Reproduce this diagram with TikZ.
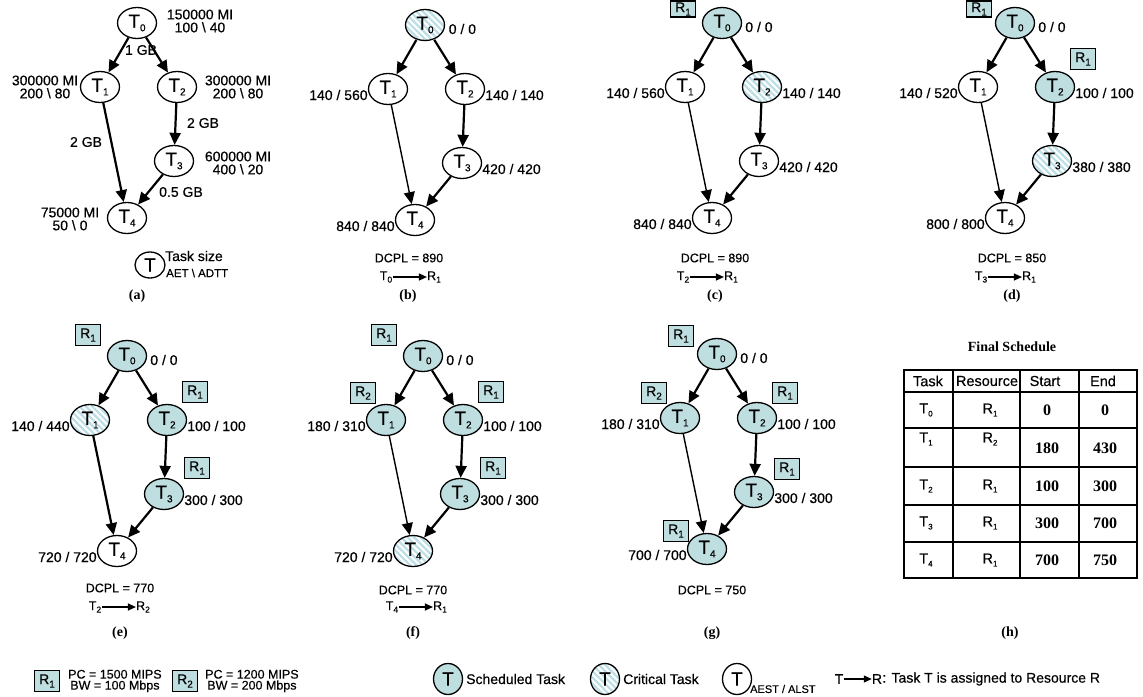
\documentclass[tikz,border=0pt]{standalone}
\usepackage{fontspec}
\setmainfont{Liberation Sans}[FakeBold=0.45]
\newfontfamily\capfont{Liberation Serif}
\usetikzlibrary{shapes.geometric,arrows.meta,patterns.meta,calc}
\definecolor{schedc}{RGB}{190,222,224}
\definecolor{critc}{RGB}{188,222,230}
\newcommand\sbs[1]{\raisebox{-3.5pt}{\fontsize{10}{10}\selectfont #1}}
\newcommand\sbl[1]{\raisebox{-2.5pt}{\fontsize{8.5}{8.5}\selectfont #1}}
\newcommand\sbt[1]{\raisebox{-3pt}{\fontsize{8}{8}\selectfont #1}}
\tikzset{
 tbase/.style={ellipse, draw, line width=1.3pt, minimum width=39pt, minimum height=31pt, inner sep=0pt, font=\fontsize{19}{19}\selectfont},
 plain/.style={tbase, fill=white},
 sched/.style={tbase, fill=schedc},
 crit/.style={tbase, preaction={fill=white}, pattern={Lines[angle=-45,distance=4.5pt,line width=2.2pt]}, pattern color=critc},
 rbox/.style={draw, line width=1.3pt, fill=schedc, minimum width=25pt, minimum height=21pt, inner sep=0pt, font=\fontsize{14}{14}\selectfont},
 lab/.style={font=\fontsize{14}{13}\selectfont, inner sep=0pt},
 slab/.style={font=\fontsize{12.5}{13}\selectfont, inner sep=0pt},
 arr/.style={line width=2.2pt, -{Triangle[length=12pt,width=11pt]}},
 arrthin/.style={line width=1.4pt, -{Triangle[length=12pt,width=11pt]}},
 asg/.style={line width=1.3pt, -{Triangle[length=8pt,width=7pt]}, shorten <=1pt},
 capt/.style={font=\capfont\bfseries\fontsize{14}{14}\selectfont, inner sep=0pt},
 tcell/.style={font=\fontsize{14.5}{14}\selectfont, inner sep=0pt},
 tnum/.style={font=\capfont\bfseries\fontsize{16}{16}\selectfont, inner sep=0pt},
 tline/.style={line width=1.9pt},
}
\newcommand\dagnodes[7]{%
 \begin{scope}[shift={#2}]
  \node[#3] (#10) at (0,0) {T\sbs{0}};
  \node[#4] (#11) at (-37,64) {T\sbs{1}};
  \node[#5] (#12) at (40,64) {T\sbs{2}};
  \node[#6] (#13) at (37,138) {T\sbs{3}};
  \node[#7] (#14) at (-10,195) {T\sbs{4}};
 \end{scope}}
\newcommand\dagedges[2]{%
 \draw[arr] (#10) -- (#11);
 \draw[arr] (#10) -- (#12);
 \draw[arr] (#12) -- (#13);
 \draw[#2] (#11) -- (#14);
 \draw[arr] (#13) -- (#14);}
\newcommand\daglabels[6]{%
 \node[lab,anchor=west] (#1l0) at ([shift={(3,4)}]#10.east) {#2};
 \node[lab,anchor=east] (#1l1) at ([shift={(0,6)}]#11.west) {#3};
 \node[lab,anchor=west] (#1l2) at ([shift={(0,6)}]#12.east) {#4};
 \node[lab,anchor=west] (#1l3) at ([shift={(0,6)}]#13.east) {#5};
 \node[lab,anchor=east] (#1l4) at ([shift={(0,6)}]#14.west) {#6};}
\newcommand\assignto[5]{%
 \node[slab] (#1t) at (#2-24,#3) {T\sbl{#4}};
 \node[slab] (#1r) at (#2+24,#3) {R\sbl{#5}};
 \draw[asg] (#1t) -- (#1r);}
\newcommand\trow[8]{%
 \node[tcell] (#8t) at (926,#1) {T\sbt{#3}};
 \node[tcell] (#8r) at (990,#1) {R\sbt{#4}};
 \node[tnum] (#8s) at (1047,#2) {#5};
 \node[tnum] (#8e) at (1105,#2) {#6};}
\begin{document}
\begin{tikzpicture}[x=1pt,y=-1pt]
\useasboundingbox (0,0) rectangle (1143,696);
% ---------------- (a)
\dagnodes{a}{(137,23)}{plain}{plain}{plain}{plain}{plain}
\dagedges{a}{arr}
\node[lab,align=center] (al0) at (200,21) {150000 MI\\100 \textbackslash{} 40};
\node[lab,align=center] (al1) at (45,87) {300000 MI\\200 \textbackslash{} 80};
\node[lab,align=center] (al2) at (238,87) {300000 MI\\200 \textbackslash{} 80};
\node[lab,align=center] (al3) at (238,163) {600000 MI\\400 \textbackslash{} 20};
\node[lab,align=center] (al4) at (70,219) {75000 MI\\50 \textbackslash{} 0};
\node[lab] (ae1) at (141,50) {1 GB};
\node[lab] (ae2) at (203,123) {2 GB};
\node[lab] (ae3) at (86,142) {2 GB};
\node[lab] (ae4) at (181,192) {0.5 GB};
\node[plain, minimum width=30pt, minimum height=26pt] (alg) at (150,265) {T};
\node[lab,anchor=west] (algt) at (165,256) {Task size};
\node[lab,anchor=west,font=\fontsize{11.5}{11}\selectfont] (algb) at (166,273) {AET \textbackslash{} ADTT};
\node[capt] (acap) at (137,296) {(a)};
% ---------------- (b)
\dagnodes{b}{(425,25)}{crit}{plain}{plain}{plain}{plain}
\dagedges{b}{arrthin}
\daglabels{b}{0 / 0}{140 / 560}{140 / 140}{420 / 420}{840 / 840}
\node[slab] (bd) at (409,258) {DCPL = 890};
\assignto{ba}{410}{277}{0}{1}
\node[capt] (bcap) at (408,296) {(b)};
% ---------------- (c)
\dagnodes{c}{(722,23)}{sched}{plain}{crit}{plain}{plain}
\dagedges{c}{arrthin}
\daglabels{c}{0 / 0}{140 / 560}{140 / 140}{420 / 420}{840 / 840}
\node[rbox, minimum height=16pt] (cb0) at ([shift={(-39,-14)}]c0.center) {R\sbs{1}};
\node[slab] (cd) at (715,258) {DCPL = 890};
\assignto{ca}{707}{277}{2}{1}
\node[capt] (ccap) at (715,296) {(c)};
% ---------------- (d)
\dagnodes{d}{(1015,23)}{sched}{plain}{sched}{crit}{plain}
\dagedges{d}{arrthin}
\daglabels{d}{0 / 0}{140 / 520}{100 / 100}{380 / 380}{800 / 800}
\node[rbox, minimum height=16pt] (db0) at ([shift={(-36,-14)}]d0.center) {R\sbs{1}};
\node[rbox] (db2) at ([shift={(28,-28)}]d2.center) {R\sbs{1}};
\node[slab] (dd) at (1012,258) {DCPL = 850};
\assignto{da}{1005}{277}{3}{1}
\node[capt] (dcap) at (1012,296) {(d)};
% ---------------- (e)
\dagnodes{e}{(127,356)}{sched}{crit}{sched}{sched}{plain}
\dagedges{e}{arr}
\daglabels{e}{0 / 0}{140 / 440}{100 / 100}{300 / 300}{720 / 720}
\node[rbox] (eb0) at ([shift={(-39,-21)}]e0.center) {R\sbs{1}};
\node[rbox] (eb2) at ([shift={(28,-28)}]e2.center) {R\sbs{1}};
\node[rbox] (eb3) at ([shift={(33,-26)}]e3.center) {R\sbs{1}};
\node[slab] (ed) at (120,588) {DCPL = 770};
\assignto{ea}{119}{607}{2}{2}
\node[capt] (ecap) at (120,633) {(e)};
% ---------------- (f)
\dagnodes{f}{(423,356)}{sched}{sched}{sched}{sched}{crit}
\dagedges{f}{arrthin}
\daglabels{f}{0 / 0}{180 / 310}{100 / 100}{300 / 300}{720 / 720}
\node[rbox] (fb0) at ([shift={(-39,-21)}]f0.center) {R\sbs{1}};
\node[rbox] (fb1) at ([shift={(-23,-27)}]f1.center) {R\sbs{2}};
\node[rbox] (fb2) at ([shift={(28,-28)}]f2.center) {R\sbs{1}};
\node[rbox] (fb3) at ([shift={(33,-26)}]f3.center) {R\sbs{1}};
\node[slab] (fd) at (413,590) {DCPL = 770};
\assignto{fa}{416}{607}{4}{1}
\node[capt] (fcap) at (413,633) {(f)};
% ---------------- (g)
\dagnodes{g}{(717,354)}{sched}{sched}{sched}{sched}{sched}
\dagedges{g}{arrthin}
\daglabels{g}{0 / 0}{180 / 310}{100 / 100}{300 / 300}{700 / 700}
\node[rbox] (gb0) at ([shift={(-36,-18)}]g0.center) {R\sbs{1}};
\node[rbox] (gb1) at ([shift={(-26,-25)}]g1.center) {R\sbs{2}};
\node[rbox] (gb2) at ([shift={(28,-25)}]g2.center) {R\sbs{1}};
\node[rbox] (gb3) at ([shift={(33,-23)}]g3.center) {R\sbs{1}};
\node[rbox] (gb4) at ([shift={(-31,-18)}]g4.center) {R\sbs{1}};
\node[slab] (gd) at (712,590) {DCPL = 750};
\node[capt] (gcap) at (712,633) {(g)};
% ---------------- (h)
\node[capt] (htitle) at (1012,347) {Final Schedule};
\draw[tline] (904,370) rectangle (1137,578);
\foreach \yy in {392,428,467,505,542} \draw[tline] (904,\yy) -- (1137,\yy);
\foreach \xx in {953,1020,1079} \draw[tline] (\xx,370) -- (\xx,578);
\node[tcell] (hh1) at (928,381) {Task};
\node[tcell] (hh2) at (987,381) {Resource};
\node[tcell] (hh3) at (1045,381) {Start};
\node[tcell] (hh4) at (1103,381) {End};
\trow{410}{410}{0}{1}{0}{0}{}{hr0}
\trow{439}{448}{1}{2}{180}{430}{}{hr1}
\trow{486}{486}{2}{1}{100}{300}{}{hr2}
\trow{523}{523}{3}{1}{300}{700}{}{hr3}
\trow{560}{560}{4}{1}{700}{750}{}{hr4}
\node[capt] (hcap) at (1010,633) {(h)};
% ---------------- legend
\node[rbox] (lr1) at (47,681) {R\sbs{1}};
\node[slab,anchor=west,align=center,font=\fontsize{12.5}{11}\selectfont] (lr1t) at (68,681) {PC = 1500 MIPS\\BW = 100 Mbps};
\node[rbox] (lr2) at (185,681) {R\sbs{2}};
\node[slab,anchor=west,align=center,font=\fontsize{12.5}{11}\selectfont] (lr2t) at (205,681) {PC = 1200 MIPS\\BW = 200 Mbps};
\node[sched, minimum width=29pt, minimum height=31pt] (ls) at (448,679) {T};
\node[lab,anchor=west] (lst) at (466,679) {Scheduled Task};
\node[crit, minimum width=29pt, minimum height=31pt] (lc) at (605,679) {T};
\node[lab,anchor=west] (lct) at (623,679) {Critical Task};
\node[plain, minimum width=29pt, minimum height=31pt] (la) at (737,679) {T};
\node[lab,anchor=west,font=\fontsize{11}{11}\selectfont] (lat) at (750,689) {AEST / ALST};
\node[lab] (lt) at (839,679) {T};
\node[lab] (lrr) at (877,679) {R};
\draw[asg] (lt) -- (lrr);
\node[lab,anchor=west] (ltxt) at (lrr.east) {: Task T is assigned to Resource R};
\end{tikzpicture}
\end{document}
